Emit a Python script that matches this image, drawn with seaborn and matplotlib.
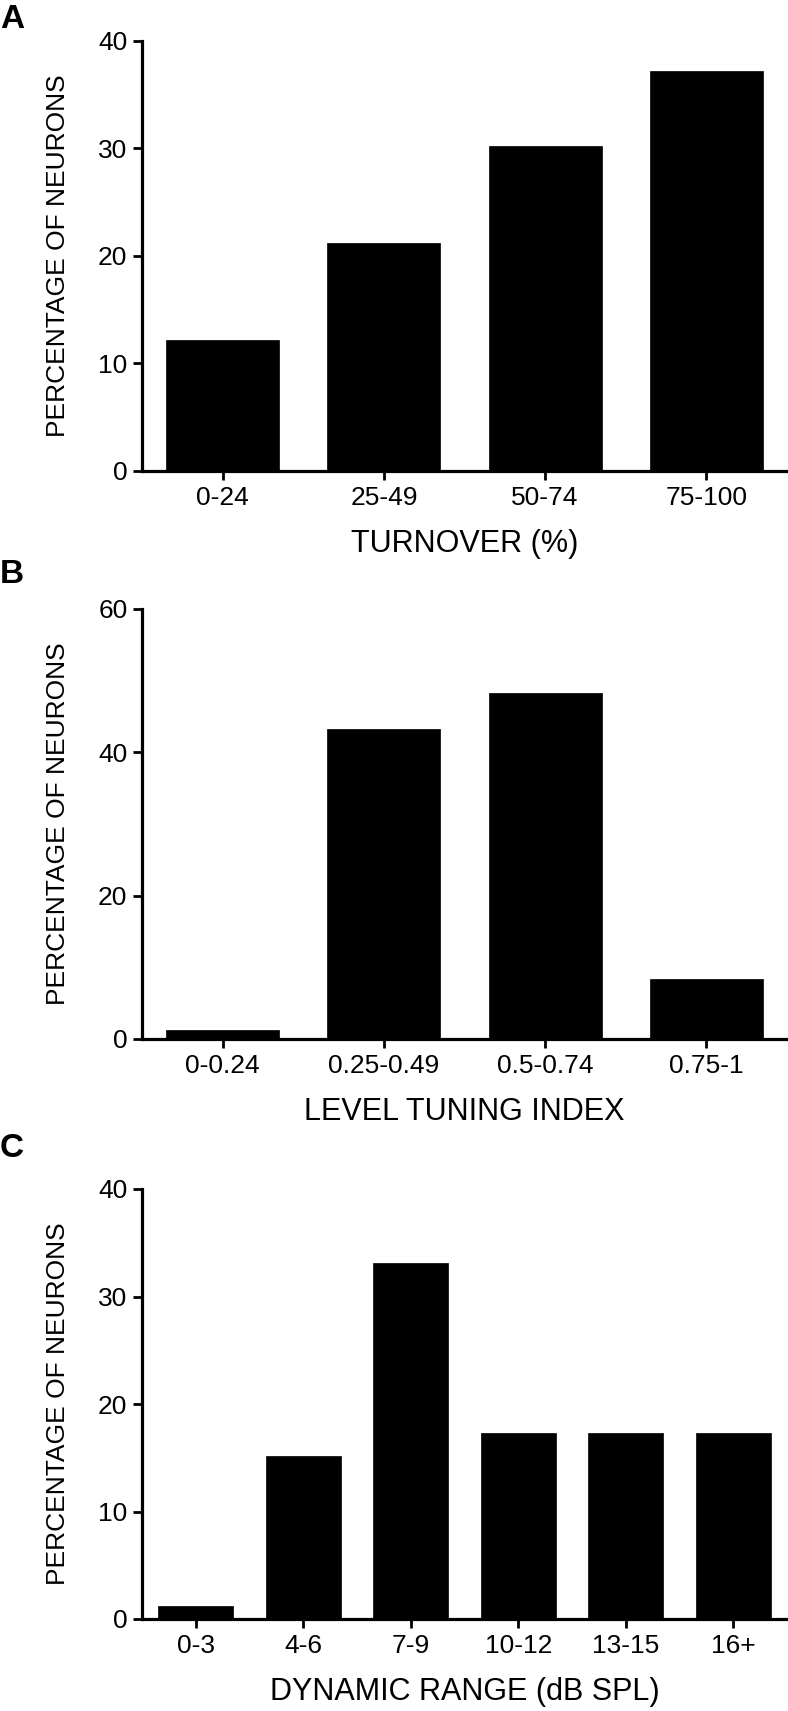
import matplotlib
matplotlib.use("Agg")
import matplotlib.pyplot as plt
import seaborn as sns
import pandas as pd

# ---- data ----
turnover_cats = ["0-24", "25-49", "50-74", "75-100"]
turnover_vals = [12.2, 21.2, 30.2, 37.2]

lti_cats = ["0-0.24", "0.25-0.49", "0.5-0.74", "0.75-1"]
lti_vals = [1.2, 43.2, 48.3, 8.4]

dr_cats = ["0-3", "4-6", "7-9", "10-12", "13-15", "16+"]
dr_vals = [1.2, 15.2, 33.1, 17.3, 17.3, 17.3]

ylabel = "PERCENTAGE OF NEURONS"
xlabels = ["TURNOVER (%)", "LEVEL TUNING INDEX", "DYNAMIC RANGE (dB SPL)"]
panel_letters = ["A", "B", "C"]
yticks_list = [[0, 10, 20, 30, 40], [0, 20, 40, 60], [0, 10, 20, 30, 40]]

sns.set_theme(style="ticks")
plt.rcParams['font.family'] = ['Liberation Sans', 'DejaVu Sans']

W, H = 788, 1711
fig = plt.figure(figsize=(W / 100, H / 100), dpi=100)

left_px, right_px = 142, 787
panels_px = [(41, 471), (609, 1039), (1189, 1619)]
letter_y_px = [4, 559, 1133]

datasets = [(turnover_cats, turnover_vals), (lti_cats, lti_vals), (dr_cats, dr_vals)]

for i, ((cats, vals), (top, bot)) in enumerate(zip(datasets, panels_px)):
    ax = fig.add_axes([left_px / W, 1 - bot / H, (right_px - left_px) / W, (bot - top) / H])
    df = pd.DataFrame({"cat": cats, "val": vals})
    sns.barplot(data=df, x="cat", y="val", color="black", saturation=1,
                width=0.7, errorbar=None, ax=ax, edgecolor="black", linewidth=0.5)
    ax.set_xlim(-0.5, len(cats) - 0.5)
    yt = yticks_list[i]
    ax.set_ylim(0, yt[-1])
    ax.set_yticks(yt)
    ax.set_yticklabels([str(v) for v in yt])
    sns.despine(ax=ax)
    for s in ["left", "bottom"]:
        ax.spines[s].set_linewidth(2.3)
        ax.spines[s].set_color("black")
    ax.tick_params(axis="both", direction="out", length=6.5, width=2.0,
                   colors="black", labelsize=19, pad=4)
    ax.set_xlabel(xlabels[i], fontsize=22, labelpad=14, color="black")
    ax.set_ylabel(ylabel, fontsize=19, labelpad=20, color="black")
    ax.set_facecolor("white")
    fig.text(0 / W, 1 - letter_y_px[i] / H, panel_letters[i], fontsize=24,
             fontweight="bold", ha="left", va="top", color="black")

fig.savefig("out.png", dpi=100, facecolor="white")
